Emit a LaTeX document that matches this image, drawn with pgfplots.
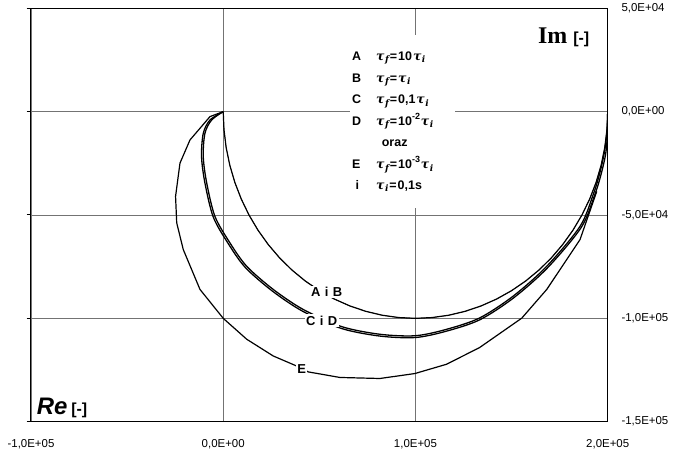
\documentclass[border=0pt]{standalone}
\usepackage{pgfplots}
\pgfplotsset{compat=1.18}
\usepackage{fontspec}
\setmainfont{Liberation Sans}
\newfontfamily\seriffont{Liberation Serif}
\newfontfamily\greekfont{DejaVu Serif}

% bold italic tau with a subscript, as in the legend
\newcommand{\tausub}[1]{{\greekfont\bfseries\itshape τ\kern0.5bp\raisebox{-0.35ex}{\fontsize{9}{9}\selectfont #1}}\kern1bp}
\newcommand{\sups}[1]{\raisebox{0.9ex}{\fontsize{9}{9}\selectfont #1}\kern1bp}

\begin{document}
\begin{tikzpicture}
\useasboundingbox (-31bp,-32.3bp) rectangle (645bp,421.7bp);
\begin{axis}[
  scale only axis,
  width=576.7bp,
  height=413.4bp,
  xmin=-100000, xmax=200000,
  ymin=-150000, ymax=50000,
  xtick={-100000,0,100000,200000},
  xticklabels={{-1,0E+05},{0,0E+00},{1,0E+05},{2,0E+05}},
  ytick={-150000,-100000,-50000,0,50000},
  yticklabels={{-1,5E+05},{-1,0E+05},{-5,0E+04},{0,0E+00},{5,0E+04}},
  scaled ticks=false,
  ytick pos=left,
  yticklabel pos=right,
  tick align=outside,
  major tick length=4.3bp,
  xtick style={draw=none},
  ytick style={black, line width=1bp},
  tick label style={font=\fontsize{11.5}{13}\selectfont},
  xticklabel style={yshift=-10bp},
  yticklabel style={anchor=west, xshift=6bp},
  grid=major,
  major grid style={black!55, line width=0.8bp},
  axis line style={black, line width=1bp},
  cycle list={{black, line width=1.2bp, no markers}},
]
% A: tau_f = 10 tau_i
\addplot coordinates {
  (200000,0) (199619,-8716) (198481,-17365) (196593,-25882) (193969,-34202)
  (190631,-42262) (186603,-50000) (181915,-57358) (176604,-64279) (170711,-70711)
  (164279,-76604) (157358,-81915) (150000,-86603) (142262,-90631) (134202,-93969)
  (125882,-96593) (117365,-98481) (108716,-99619) (100000,-100000) (91284,-99619)
  (82635,-98481) (74118,-96593) (65798,-93969) (57738,-90631) (50000,-86603)
  (42642,-81915) (35721,-76604) (29289,-70711) (23396,-64279) (18085,-57358)
  (13397,-50000) (9369,-42262) (6031,-34202) (3407,-25882) (1519,-17365)
  (381,-8716) (0,0)
};
% B: tau_f = tau_i
\addplot coordinates {
  (200000,0) (199619,-8716) (198481,-17365) (196593,-25882) (193969,-34202)
  (190631,-42262) (186603,-50000) (181915,-57358) (176604,-64279) (170711,-70711)
  (164279,-76604) (157358,-81915) (150000,-86603) (142262,-90631) (134202,-93969)
  (125882,-96593) (117365,-98481) (108716,-99619) (100000,-100000) (91284,-99619)
  (82635,-98481) (74118,-96593) (65798,-93969) (57738,-90631) (50000,-86603)
  (42642,-81915) (35721,-76604) (29289,-70711) (23396,-64279) (18085,-57358)
  (13397,-50000) (9369,-42262) (6031,-34202) (3407,-25882) (1519,-17365)
  (381,-8716) (0,0)
};
% C: tau_f = 0,1 tau_i
\addplot+[smooth, line width=1.3bp] coordinates {
  (0,0) (-6000,-4000) (-9500,-10400) (-10400,-21700) (-8600,-34500)
  (-4300,-50700) (3500,-63500) (12200,-74800) (26000,-86000) (41600,-95700)
  (61600,-104000) (81500,-107700) (100000,-108400) (116200,-105300) (133400,-99800)
  (150900,-89200) (168300,-74800) (185600,-55500) (192500,-40000) (195800,-30000)
  (198200,-20000) (199600,-10000) (200000,0)
};
% D: tau_f = 10^-2 tau_i
\addplot+[smooth, line width=1.3bp] coordinates {
  (0,0) (-6850,-4030) (-10380,-10480) (-11280,-21870) (-9470,-34780)
  (-5130,-51110) (2730,-64010) (11500,-75400) (25410,-86690) (41130,-96470)
  (61290,-104830) (81350,-108560) (100000,-109270) (116330,-106140) (133670,-100600)
  (151310,-89910) (168850,-75400) (186280,-55940) (193240,-40320) (196570,-30240)
  (198990,-20160) (199900,-10100) (200000,0)
};
% E: tau_f = 10^-3 tau_i
\addplot coordinates {
  (0,0) (-6900,-2400) (-17300,-13700) (-22500,-24900) (-24800,-41000)
  (-24200,-53800) (-20800,-66700) (-12100,-86000) (0,-100000) (12200,-110100)
  (26000,-118200) (37300,-122700) (44200,-125900) (60700,-128600) (81500,-129100)
  (99700,-126700) (116200,-122200) (133400,-114100) (155300,-99900) (168300,-86000)
  (185600,-61900) (194300,-38600)
};
% curve labels
\node[fill=white, inner sep=1.5bp, font=\fontsize{13}{14}\selectfont\bfseries] at (axis cs:53800,-87300) {A\,\,i\,\,B};
\node[fill=white, inner sep=1.5bp, font=\fontsize{13}{14}\selectfont\bfseries] at (axis cs:51200,-101000) {C\,\,i\,\,D};
\node[fill=white, inner sep=1.5bp, font=\fontsize{13}{14}\selectfont\bfseries] at (axis cs:40800,-124300) {E};
% legend text box
\fill[white] (axis cs:65900,37000) rectangle (axis cs:120450,-46450);
\begin{scope}[every node/.style={anchor=base west, inner sep=0pt, font=\fontsize{12.5}{13}\selectfont\bfseries}]
\node at (axis cs:66960,24940) {A};
\node at (axis cs:79450,24940) {\tausub{f}=\kern1bp 10\kern1bp\tausub{i}};
\node at (axis cs:66960,14330) {B};
\node at (axis cs:79450,14330) {\tausub{f}=\kern1bp\tausub{i}};
\node at (axis cs:66960,3710) {C};
\node at (axis cs:79450,3710) {\tausub{f}=\kern1bp 0,1\kern1bp\tausub{i}};
\node at (axis cs:66960,-6660) {D};
\node at (axis cs:79450,-6660) {\tausub{f}=\kern1bp 10\sups{-2}\tausub{i}};
\node at (axis cs:82420,-17030) {oraz};
\node at (axis cs:66960,-27640) {E};
\node at (axis cs:79450,-27640) {\tausub{f}=\kern1bp 10\sups{-3}\tausub{i}};
\node at (axis cs:68800,-37770) {i};
\node at (axis cs:79450,-37770) {\tausub{i}=\kern1bp 0,1s};
\end{scope}
% axis names
\node[anchor=base west, inner sep=0pt] at (axis cs:163700,33140)
  {{\seriffont\fontsize{24}{26}\selectfont\bfseries Im}\hspace{6bp}{\fontsize{16}{18}\selectfont\bfseries [-]}};
\node[anchor=base west, inner sep=0pt] at (axis cs:-97100,-146300)
  {{\fontsize{24}{26}\selectfont\bfseries\itshape Re}\hspace{4bp}{\fontsize{16}{18}\selectfont\bfseries [-]}};
\end{axis}
\end{tikzpicture}
\end{document}
